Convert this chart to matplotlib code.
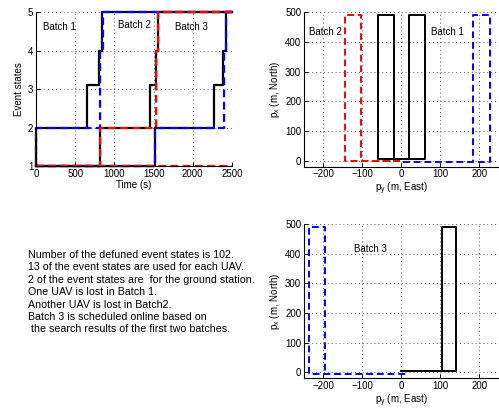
import matplotlib
matplotlib.use('Agg')
import matplotlib.pyplot as plt

plt.rcParams['font.family'] = ['Liberation Sans', 'DejaVu Sans']
plt.rcParams['font.size'] = 7
plt.rcParams['mathtext.fontset'] = 'custom'
plt.rcParams['mathtext.rm'] = 'Liberation Sans'
plt.rcParams['mathtext.it'] = 'Liberation Sans'

# estados de eventos (tiempo, estado) por lote
t_negro1 = [0, 0, 650, 650, 810, 810, 845, 845, 2500]
s_negro1 = [1, 2, 2, 3.1, 3.1, 4, 4, 5, 5]
t_azul1 = [0, 0, 820, 820, 855, 855, 2500]
s_azul1 = [1, 2, 2, 4, 4, 5, 5]
t_negro2 = [0, 820, 820, 1455, 1455, 1530, 1530, 1555, 1555, 2500]
s_negro2 = [1, 1, 2, 2, 3.1, 3.1, 4, 4, 5, 5]
t_rojo2 = [0, 820, 820, 1535, 1535, 1560, 1560, 2500]
s_rojo2 = [1, 1, 2, 2, 4, 4, 5, 5]
t_negro3 = [0, 1520, 1520, 2265, 2265, 2385, 2385, 2420, 2420, 2500]
s_negro3 = [1, 1, 2, 2, 3.1, 3.1, 4, 4, 5, 5]
t_azul3 = [0, 1520, 1520, 2395, 2395, 2430, 2430, 2500]
s_azul3 = [1, 1, 2, 2, 4, 4, 5, 5]
t_rojo3 = [0, 2500]
s_rojo3 = [1, 1]

# trayectorias lotes 1 y 2
py_negro_a = [0, -20, -20, -60, -60, -20]
px_negro_a = [5, 5, 490, 490, 5, 5]
py_negro_b = [0, 20, 20, 60, 60, 20]
px_negro_b = [5, 5, 490, 490, 5, 5]
py_rojo = [-5, -145, -145, -105, -105, -5]
px_rojo = [0, 0, 490, 490, 0, 0]
py_azul = [5, 228, 228, 184, 184]
px_azul = [-5, -5, 490, 490, -5]

# trayectorias lote 3
py_azul_l3 = [10, -237, -237, -195, -195]
px_azul_l3 = [-5, -5, 490, 490, -5]
py_negro_l3 = [0, 140, 140, 105, 105]
px_negro_l3 = [5, 5, 490, 490, 5]

texto = ['Number of the defuned event states is 102.',
         '13 of the event states are used for each UAV.',
         '2 of the event states are  for the ground station.',
         'One UAV is lost in Batch 1.',
         'Another UAV is lost in Batch2.',
         'Batch 3 is scheduled online based on',
         ' the search results of the first two batches.']

guion = (0, (3.5, 2))

def estilo(ax):
    ax.grid(True, linestyle=(0, (1, 3)), color='0.35', linewidth=0.7)
    ax.tick_params(direction='in', length=3, width=0.7, pad=2)
    ax.spines['top'].set_visible(False)
    ax.spines['right'].set_visible(False)
    for s in ['left', 'bottom']:
        ax.spines[s].set_linewidth(0.8)

fig = plt.figure(figsize=(4.99, 4.08), dpi=100)

ax1 = fig.add_axes([0.0721, 0.5931, 0.3928, 0.3775])
for t, s in [(t_negro1, s_negro1), (t_negro2, s_negro2), (t_negro3, s_negro3)]:
    ax1.plot(t, s, color='k', linewidth=1.6, clip_on=False)
for t, s in [(t_azul1, s_azul1), (t_azul3, s_azul3)]:
    ax1.plot(t, s, color='b', linewidth=1.6, linestyle=guion, clip_on=False)
for t, s in [(t_rojo2, s_rojo2), (t_rojo3, s_rojo3)]:
    ax1.plot(t, s, color='r', linewidth=1.6, linestyle=guion, clip_on=False)
ax1.set_xlim(0, 2500)
ax1.set_ylim(1, 5)
ax1.set_xticks([0, 500, 1000, 1500, 2000, 2500])
ax1.set_yticks([1, 2, 3, 4, 5])
ax1.text(90, 4.62, 'Batch 1', va='center')
ax1.text(1046, 4.67, 'Batch 2', va='center')
ax1.text(1773, 4.62, 'Batch 3', va='center')
ax1.set_xlabel('Time (s)', labelpad=1)
ax1.set_ylabel('Event states', labelpad=3)
estilo(ax1)

ax2 = fig.add_axes([0.6092, 0.5917, 0.3908, 0.3782])
ax2.plot(py_negro_a, px_negro_a, color='k', linewidth=1.4)
ax2.plot(py_negro_b, px_negro_b, color='k', linewidth=1.4)
ax2.plot(py_rojo, px_rojo, color='r', linewidth=1.4, linestyle=guion)
ax2.plot(py_azul, px_azul, color='b', linewidth=1.4, linestyle=guion)
ax2.set_xlim(-250, 250)
ax2.set_ylim(-20, 500)
ax2.set_xticks([-200, -100, 0, 100, 200])
ax2.set_yticks([0, 100, 200, 300, 400, 500])
ax2.set_xticklabels(['\u2212200', '\u2212100', '0', '100', '200'])
ax2.text(-236, 435, 'Batch 2', va='center')
ax2.text(75, 435, 'Batch 1', va='center')
ax2.set_xlabel(r'p$_y$ (m, East)', labelpad=1)
ax2.set_ylabel(r'p$_x$ (m, North)', labelpad=2)
estilo(ax2)

ax3 = fig.add_axes([0.6092, 0.0728, 0.3908, 0.3782])
ax3.plot(py_azul_l3, px_azul_l3, color='b', linewidth=1.4, linestyle=guion)
ax3.plot(py_negro_l3, px_negro_l3, color='k', linewidth=1.4)
ax3.set_xlim(-250, 250)
ax3.set_ylim(-20, 500)
ax3.set_xticks([-200, -100, 0, 100, 200])
ax3.set_yticks([0, 100, 200, 300, 400, 500])
ax3.set_xticklabels(['\u2212200', '\u2212100', '0', '100', '200'])
ax3.text(-123, 417, 'Batch 3', va='center')
ax3.set_xlabel(r'p$_y$ (m, East)', labelpad=1)
ax3.set_ylabel(r'p$_x$ (m, North)', labelpad=2)
estilo(ax3)

for i, linea in enumerate(texto):
    fig.text(28 / 499, 1 - (258 + 12.4 * i) / 408, linea, va='baseline', fontsize=7.7)

fig.savefig('out.png', dpi=100)
